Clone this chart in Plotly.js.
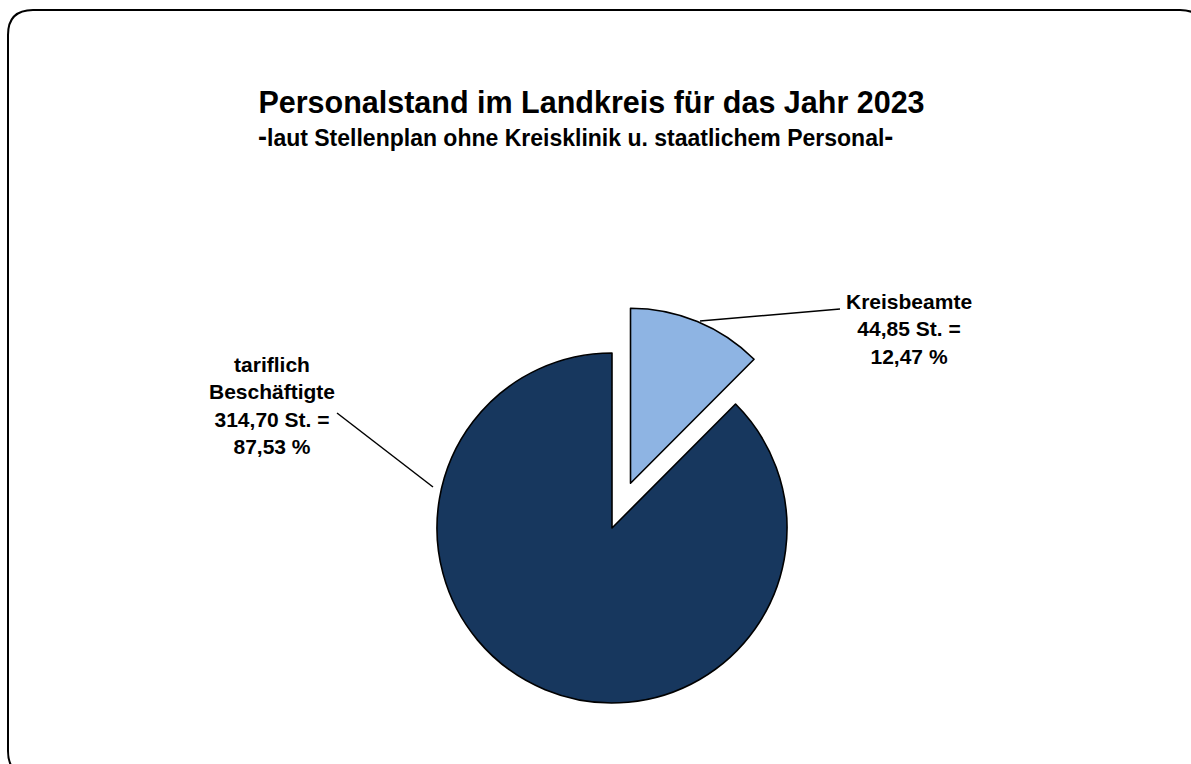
<!DOCTYPE html>
<html>
<head>
<meta charset="utf-8">
<script src="https://cdn.plot.ly/plotly-3.0.1.min.js"></script>
<style>html,body{margin:0;padding:0;background:#fff;}#chart{width:1191px;height:764px;}</style>
</head>
<body>
<div id="chart"></div>
<script>
// ---- data ----
const categories = ['Kreisbeamte', 'tariflich Beschäftigte'];
const labelNames = ['Kreisbeamte', 'tariflich<br>Beschäftigte'];
const values = [44.85, 314.70];
const unit = 'St.';
const titleText = 'Personalstand im Landkreis für das Jahr 2023';
const subtitleText = 'laut Stellenplan ohne Kreisklinik u. staatlichem Personal';

// ---- helpers ----
const W = 1191, H = 764;
const px = x => x / W;
const py = y => 1 - y / H;
const total = values.reduce((a, b) => a + b, 0);
const fmt = (v, d) => v.toFixed(d).replace('.', ',');
const labels = values.map((v, i) =>
  '<b>' + labelNames[i] + '<br>' + fmt(v, 2) + ' ' + unit + ' =<br>' + fmt(v / total * 100, 2) + ' %</b>');

const FONT = 'Liberation Sans, Arial, Helvetica, sans-serif';
const dash = '<span style="font-size:27px">-</span>';

const trace = {
  type: 'pie',
  labels: categories,
  values: values,
  sort: false,
  direction: 'clockwise',
  rotation: 0,
  pull: [0.277, 0],
  textinfo: 'none',
  hoverinfo: 'label+value+percent',
  showlegend: false,
  marker: {colors: ['#8EB4E3', '#17375E'], line: {color: '#000000', width: 1.6}},
  domain: {x: [0.32619, 0.70151], y: [0.01636, 0.60144]}
};

// rounded border
const r = 25, L = 8, T = 10, R = 1205, B = 776;
const borderPath = [
  'M', px(L), py(T + r),
  'Q', px(L), py(T), px(L + r), py(T),
  'L', px(R - r), py(T),
  'Q', px(R), py(T), px(R), py(T + r),
  'L', px(R), py(B - r),
  'Q', px(R), py(B), px(R - r), py(B),
  'L', px(L + r), py(B),
  'Q', px(L), py(B), px(L), py(B - r),
  'Z'
].join(' ');

const layout = {
  width: W, height: H,
  margin: {l: 0, r: 0, t: 0, b: 0},
  paper_bgcolor: '#ffffff',
  font: {family: FONT, color: '#000000'},
  title: {
    text: '<b>' + titleText + '</b>',
    font: {family: FONT, size: 30.5, color: '#000'},
    x: px(591.5), xanchor: 'center',
    y: py(102), yanchor: 'middle', yref: 'container'
  },
  annotations: [
    {text: '<b>' + dash + subtitleText + dash + '</b>', xref: 'paper', yref: 'paper',
     x: px(575.5), y: py(137), xanchor: 'center', yanchor: 'middle', showarrow: false,
     font: {family: FONT, size: 23, color: '#000'}},
    {text: labels[0], xref: 'paper', yref: 'paper', x: px(909), y: py(329),
     xanchor: 'center', yanchor: 'middle', showarrow: false, align: 'center',
     font: {family: FONT, size: 21, color: '#000'}},
    {text: labels[1], xref: 'paper', yref: 'paper', x: px(272), y: py(405),
     xanchor: 'center', yanchor: 'middle', showarrow: false, align: 'center',
     font: {family: FONT, size: 21, color: '#000'}}
  ],
  shapes: [
    {type: 'path', xref: 'paper', yref: 'paper', path: borderPath,
     line: {color: '#000', width: 2}, fillcolor: 'rgba(0,0,0,0)'},
    {type: 'line', xref: 'paper', yref: 'paper', x0: px(700), y0: py(321), x1: px(840), y1: py(309),
     line: {color: '#000', width: 1.5}},
    {type: 'line', xref: 'paper', yref: 'paper', x0: px(337), y0: py(413), x1: px(433), y1: py(487),
     line: {color: '#000', width: 1.5}}
  ]
};

Plotly.newPlot('chart', [trace], layout, {displayModeBar: false, staticPlot: true});
</script>
</body>
</html>
